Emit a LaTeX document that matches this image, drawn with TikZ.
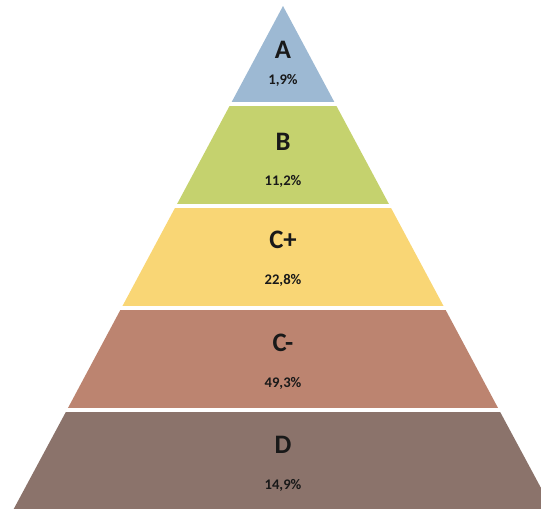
\documentclass[tikz,border=0pt]{standalone}
\usepackage{fontspec}
\setmainfont{Carlito}
\usepackage{tikz}

\definecolor{bandA}{RGB}{157,185,211}
\definecolor{bandB}{RGB}{197,210,110}
\definecolor{bandCp}{RGB}{249,214,117}
\definecolor{bandCm}{RGB}{188,132,112}
\definecolor{bandD}{RGB}{139,115,107}

\begin{document}
\begin{tikzpicture}[x=0.75pt, y=-0.75pt,
	every node/.style={text=black!90, font=\bfseries},
	grade/.style={font=\bfseries\fontsize{20}{22}\selectfont},
	share/.style={font=\bfseries\fontsize{11}{12}\selectfont},
	gap/.style={draw=white, line width=2.4pt}]
			\useasboundingbox (0,0) rectangle (541,508);
			\clip (0,0) rectangle (541,508);
			
			\fill[bandA] (283,6) -- (335.4,104) -- (230.6,104) -- cycle;
			\fill[bandB] (230.6,104) -- (335.4,104) -- (390,206) -- (176,206) -- cycle;
			\fill[bandCp] (176,206) -- (390,206) -- (444.6,308) -- (121.4,308) -- cycle;
			\fill[bandCm] (121.4,308) -- (444.6,308) -- (499.1,410) -- (66.9,410) -- cycle;
			\fill[bandD] (66.9,410) -- (499.1,410) -- (555,514) -- (11,514) -- cycle;
			
			\draw[gap] (225,104) -- (341,104);
			\draw[gap] (170,206) -- (396,206);
			\draw[gap] (115,308) -- (451,308);
			\draw[gap] (60,410) -- (506,410);
			
			\node[grade] (a) at (283,50) {A};
			\node[share] (pa) at (283,80) {1,9\%};
			\node[grade] (b) at (283,142) {B};
			\node[share] (pb) at (283,181) {11,2\%};
			\node[grade] (cp) at (283,240) {C+};
			\node[share] (pcp) at (283,280) {22,8\%};
			\node[grade] (cm) at (283,343) {C-};
			\node[share] (pcm) at (283,383) {49,3\%};
			\node[grade] (d) at (283,445) {D};
			\node[share] (pd) at (283,485) {14,9\%};
			\end{tikzpicture}
\end{document}
